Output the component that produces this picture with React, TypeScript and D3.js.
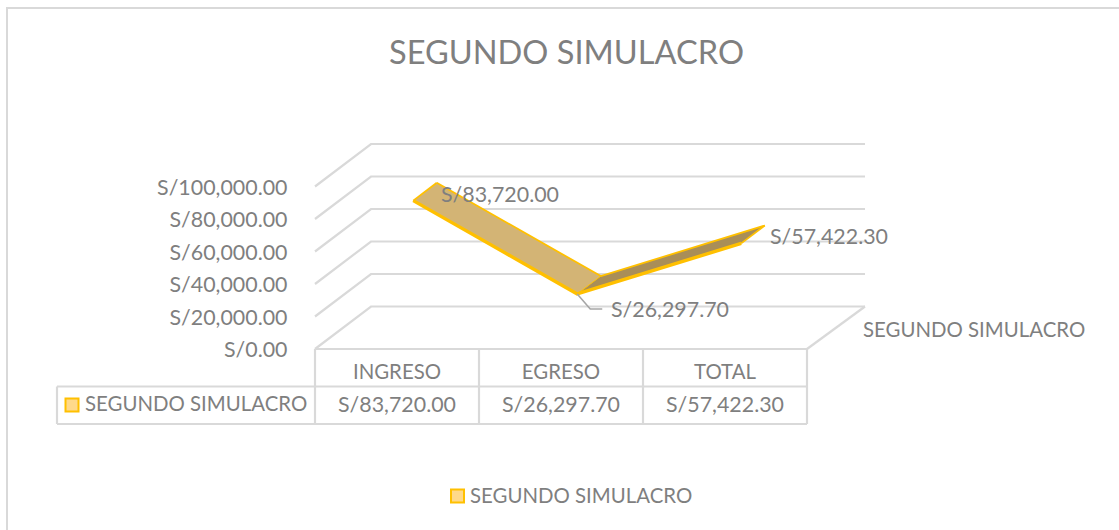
import React from "react";
import * as d3 from "d3";

const categories = ["INGRESO", "EGRESO", "TOTAL"];
const values = [83720.0, 26297.7, 57422.3];
const valueLabels = ["S/83,720.00", "S/26,297.70", "S/57,422.30"];
const yTicks = [0, 20000, 40000, 60000, 80000, 100000];
const yTickLabels = ["S/0.00", "S/20,000.00", "S/40,000.00", "S/60,000.00", "S/80,000.00", "S/100,000.00"];
const seriesName = "SEGUNDO SIMULACRO";
const title = "SEGUNDO SIMULACRO";

const FONT = "Lato, Carlito, 'Open Sans', sans-serif";
const TXT = "#7f7f7f";
const GRID = "#d9d9d9";
const AMBER = "#ffc000";
const FS_NUM = 21.4;
const FS_TXT = 20.4;

export default function App() {
  const x = d3.scaleBand<string>().domain(categories).range([315, 807]);
  const y = d3.scaleLinear().domain([0, 100000]).range([349, 186.5]);
  const depth = d3.scaleLinear().domain([0, 1]).range([0, 1]);
  const DX = 56;
  const DY = -42.5;
  const project = (i: number, v: number, d: number): [number, number] => [
    (x(categories[i]) as number) + x.bandwidth() / 2 + depth(d) * DX,
    y(v) + depth(d) * DY,
  ];
  const line = d3.line();
  const front = 0.29;
  const back = 0.71;
  const seg = (i: number) => {
    const pts: [number, number][] = [
      project(i, values[i], front),
      project(i + 1, values[i + 1], front),
      project(i + 1, values[i + 1], back),
      project(i, values[i], back),
    ];
    return line(pts) + "Z";
  };
  const frontLine = line(values.map((v, i) => project(i, v, front))) as string;
  const backLine = line(values.map((v, i) => project(i, v, back))) as string;
  const tableTop = y(0);
  const rowH = 37.5;
  const tableLeft = 57;
  const cols = [0, 1, 2, 3].map((i) => 315 + i * x.bandwidth());
  const labelPos: [number, number][] = [[441, 195], [611, 310], [770, 237]];
  const egr = project(1, values[1], front);

  return (
    <svg
      width={1119}
      height={530}
      style={{ position: "absolute", left: 0, top: 0, fontFamily: FONT, background: "#fff" }}
    >
      <rect x={7} y={8} width={1130} height={540} fill="#fff" stroke={GRID} strokeWidth={2} />
      <text x={566.5} y={64} textAnchor="middle" fontSize={32.6} fill={TXT}>{title}</text>

      {yTicks.map((t) => {
        const p0 = [315, y(t)];
        const p1 = [315 + DX, y(t) + DY];
        const p2 = [809 + DX, y(t) + DY];
        return (
          <path key={t} d={line([p0, p1, p2] as [number, number][]) as string} fill="none" stroke={GRID} strokeWidth={2.2} />
        );
      })}
      <path d={line([[807, y(0)], [809 + DX, y(0) + DY]]) as string} stroke={GRID} strokeWidth={2.2} />

      {yTicks.map((t, i) => (
        <text key={t} x={287.5} y={y(t) + 8} textAnchor="end" fontSize={FS_NUM} fill={TXT}>{yTickLabels[i]}</text>
      ))}

      <path d={seg(0)} fill="#d3b475" stroke="none" />
      <path d={seg(1)} fill="#a98e58" stroke="none" />
      <path d={backLine} fill="none" stroke={AMBER} strokeWidth={1.8} strokeLinejoin="round" />
      <path
        d={line([project(0, values[0], front), project(0, values[0], back)]) as string}
        stroke={AMBER}
        strokeWidth={1.8}
      />
      <path
        d={line([project(1, values[1], front), project(1, values[1], back)]) as string}
        stroke={AMBER}
        strokeWidth={1}
      />
      <path
        d={line([project(2, values[2], front), project(2, values[2], back)]) as string}
        stroke={AMBER}
        strokeWidth={1.8}
      />
      <path d={frontLine} fill="none" stroke={AMBER} strokeWidth={3.4} strokeLinejoin="round" />

      <path
        d={line([egr, [egr[0] + 13, 309], [egr[0] + 25, 309]]) as string}
        fill="none"
        stroke="#a6a6a6"
        strokeWidth={1.6}
      />
      {valueLabels.map((l, i) => (
        <text key={l} x={labelPos[i][0]} y={labelPos[i][1] + 7} fontSize={FS_NUM} fill={TXT}>{l}</text>
      ))}
      <text x={863} y={337} fontSize={FS_TXT} fill={TXT}>{seriesName}</text>

      {/* data table */}
      <path d={`M${cols[0]},${tableTop}H${cols[3]}`} stroke={GRID} strokeWidth={2.2} />
      <path d={`M${tableLeft},${tableTop + rowH}H${cols[3]}`} stroke={GRID} strokeWidth={2.2} />
      <path d={`M${tableLeft},${tableTop + 2 * rowH}H${cols[3]}`} stroke={GRID} strokeWidth={2.2} />
      <path d={`M${tableLeft},${tableTop + rowH}V${tableTop + 2 * rowH}`} stroke={GRID} strokeWidth={2.2} />
      {cols.map((c) => (
        <path key={c} d={`M${c},${tableTop}V${tableTop + 2 * rowH}`} stroke={GRID} strokeWidth={2.2} />
      ))}
      {categories.map((c, i) => (
        <text key={c} x={(cols[i] + cols[i + 1]) / 2} y={tableTop + 30} textAnchor="middle" fontSize={FS_TXT} fill={TXT}>{c}</text>
      ))}
      {valueLabels.map((l, i) => (
        <text key={l} x={(cols[i] + cols[i + 1]) / 2} y={tableTop + 63} textAnchor="middle" fontSize={FS_NUM} fill={TXT}>{l}</text>
      ))}
      <rect x={65.5} y={398.5} width={13} height={13} fill="#ffd98a" stroke={AMBER} strokeWidth={2} />
      <text x={85} y={411} fontSize={FS_TXT} fill={TXT}>{seriesName}</text>

      {/* legend */}
      <rect x={451} y={489.5} width={13} height={13} fill="#ffd98a" stroke={AMBER} strokeWidth={2} />
      <text x={470} y={503} fontSize={FS_TXT} fill={TXT}>{seriesName}</text>
    </svg>
  );
}
